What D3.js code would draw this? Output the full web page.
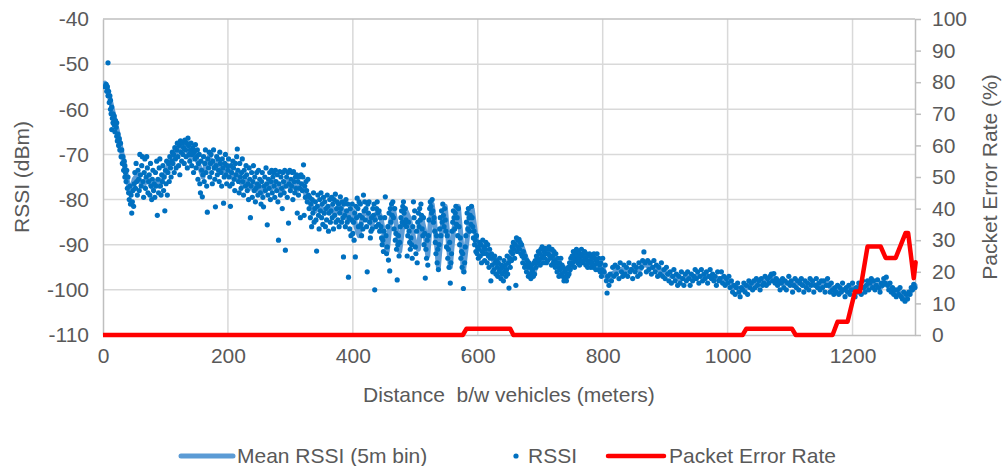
<!DOCTYPE html>
<html><head><meta charset="utf-8">
<script src="https://cdn.jsdelivr.net/npm/d3@7"></script>
<style>
body{margin:0;background:#fff}
text{font-family:"Liberation Sans",Arial,sans-serif;fill:#595959}
</style>
</head><body>
<svg id="chart" width="1002" height="466"></svg>
<script>
// ---------- DATA ----------
const xTicks = [0, 200, 400, 600, 800, 1000, 1200];
const leftTicks = [-110, -100, -90, -80, -70, -60, -50, -40];
const rightTicks = [0, 10, 20, 30, 40, 50, 60, 70, 80, 90, 100];
const seriesNames = ["Mean RSSI (5m bin)", "RSSI", "Packet Error Rate"];

// Mean RSSI (5m bin): [distance m, dBm]
const meanRSSI = [[3,-54.2],[5,-54.5],[10,-57],[15,-60],[20,-63],[25,-66],[30,-69.5],[35,-73],[40,-76.5],[45,-78],[50,-75.5],[55,-74.5],[60,-76],[65,-77],[70,-75],[75,-76.5],[80,-77.5],[85,-76],[90,-77],[95,-75.5],[100,-74],[105,-72.5],[110,-71],[115,-70],[120,-69],[125,-68],[130,-67.5],[135,-69],[140,-70.5],[145,-69],[150,-71],[155,-73],[160,-75],[165,-72],[170,-70.5],[175,-72],[180,-73],[185,-71.5],[190,-73],[195,-74.5],[200,-73],[205,-74],[210,-75.5],[215,-74],[220,-76],[225,-77],[230,-76],[235,-77.5],[240,-76.5],[245,-78],[250,-77],[255,-78.5],[260,-77],[265,-76.5],[270,-77.5],[275,-76],[280,-77.5],[285,-78.5],[290,-77],[295,-76],[300,-77.5],[305,-76.5],[310,-78],[315,-76.5],[320,-77],[325,-79],
[330,-80],[335,-82],[340,-82.5],[345,-81.5],[350,-82],[355,-83],[360,-82],[365,-81.5],[370,-83],[375,-82.5],[380,-81],[385,-83],[390,-84],[395,-83],[400,-82.5],[405,-86],[410,-88],[415,-84],[420,-82.5],[425,-83.5],[430,-85.5],[435,-84],[440,-82.5],[445,-84],[450,-88],[455,-91.5],[460,-85],[465,-82],[470,-86],[475,-91.5],[480,-86],[485,-82.5],[490,-84],[495,-87],[500,-90],[505,-91],[510,-84],[515,-87],[520,-92.5],[524,-85],[527,-81],[531,-85],[537,-95],[542,-87],[548,-81.5],[552,-88],[556,-95],[561,-87],[569,-81.5],[573,-88],[577,-96],[582,-90],[587,-84],[591,-82],[596,-87],
[600,-91],[605,-90.5],[610,-90.5],[615,-91.5],[620,-92],[625,-93.5],[630,-94.5],[635,-95],[640,-95.5],[645,-96],[650,-94],[655,-92],[660,-90.5],[665,-89.5],[670,-90],[675,-92],[680,-94],[685,-95.5],[690,-96],[695,-94.5],[700,-93],[705,-92],[710,-91.5],[715,-91.5],[720,-92.5],[725,-93.5],[730,-95],[735,-96],[740,-97],[745,-96.5],[750,-94.5],[755,-93],[760,-92.5],[765,-92.5],[770,-93],[775,-93],[780,-93.5],[785,-93.5],[790,-94],[795,-94.5],[800,-95],[805,-97],[810,-97.5],[815,-96.5],[820,-96],[825,-95.5],[830,-95.5],[835,-96],[840,-95.5],[845,-95.5],[850,-95.5],[855,-95.5],[860,-95.5],[865,-94.5],[870,-94.5],[875,-95],[880,-95],[885,-95.5],[890,-95.5],[895,-96],[900,-96],[905,-96.5],[910,-97],[915,-97],[920,-97.5],[925,-97.5],[930,-97.5],[935,-97],[940,-97.5],[945,-97],[950,-97],[955,-97],[960,-97],[965,-97],[970,-97],[975,-97],[980,-97.5],[985,-97.5],[990,-97.5],[995,-97.5],[1000,-98],[1005,-98.5],[1010,-99.5],[1015,-99.5],[1020,-100],[1025,-99.5],[1030,-99.5],[1035,-99],[1040,-98.5],[1045,-98.5],[1050,-98.5],[1055,-98.5],[1060,-98],[1065,-97.5],[1070,-97.5],[1075,-97.5],[1080,-98.5],[1085,-98.5],[1090,-98.5],[1095,-98.5],[1100,-98.5],[1105,-99],[1110,-98.5],[1115,-98.5],[1120,-99],[1125,-99],[1130,-99],[1135,-98.5],[1140,-99],[1145,-99],[1150,-99],[1155,-99],[1160,-98.5],[1165,-99.5],[1170,-100],[1175,-100],[1180,-100],[1185,-100],[1190,-100],[1195,-100],[1200,-99.5],[1205,-100],[1210,-99.5],[1215,-99.5],[1220,-99.5],[1225,-99],[1230,-98.5],[1235,-99],[1240,-99],[1245,-99.5],[1250,-98.5],[1255,-98.5],[1260,-99.5],[1265,-100],[1270,-100.5],[1275,-100.5],[1280,-101.5],[1285,-101.5],[1290,-101],[1295,-100],[1300,-99]];

// RSSI samples: [distance m, dBm]
const rssiPoints = [[3,-55],[5,-54.5],[6,-56],[7,-55],[8,-49.7],[8,-57],[9,-56],[10,-58.5],[11,-57],[12,-60],[12,-58],[13,-61],[14,-64.5],[14,-59.5],[15,-62],[16,-61],[16,-63],[17,-62],[18,-63.5],[18,-61.5],[19,-65],[20,-62.5],[21,-64],[22,-66],[22,-63],[23,-67],[24,-65.5],[25,-68],[26,-66.5],[27,-69],[28,-67.5],[29,-70.5],[30,-69],[31,-72],[32,-70.5],[33,-73.5],[34,-71.5],[35,-75],[35,-72.5],[36,-74],[37,-76],[38,-73.5],[39,-77.5],[40,-75],[41,-78.5],[42,-80],[43,-77],[44,-81],[45,-79],[46,-83],[47,-80.5],[48,-78],[49,-81.5],[50,-76.5],
[51,-74],[52,-77.5],[53,-72],[54,-76],[55,-79],[56,-73.5],[57,-75.5],[58,-78],[59,-70],[60,-74.5],[61,-77],[62,-72.5],[63,-70.5],[64,-76],[65,-79.5],[66,-74],[67,-71],[68,-77.5],[69,-75],[70,-70.5],[71,-73],[72,-78.5],[73,-76],[74,-74.5],[75,-79],[76,-72],[77,-77],[78,-80],[79,-75.5],[80,-73.5],[81,-78],[82,-76.5],[83,-79.5],[84,-74],[85,-77],[86,-71.5],[87,-83.5],[88,-75.5],[89,-78.5],[90,-73],[91,-71],[92,-77],[93,-79],[94,-74.5],[95,-76],[96,-72.5],[97,-78],[98,-75],[99,-82.5],[100,-73.5],[101,-76.5],[102,-71.5],[103,-79],[104,-74],[105,-72],[106,-76],[107,-70.5],[108,-73],[109,-75],[110,-71.5],
[111,-69.5],[112,-72],[113,-70],[114,-74],[115,-68.5],[116,-71],[117,-73],[118,-69],[119,-67.5],[120,-70.5],[121,-72.5],[122,-68],[123,-74.5],[124,-67],[125,-69.5],[126,-71.5],[127,-67.5],[128,-70],[129,-68.5],[130,-72],[131,-66.8],[132,-69],[133,-70.5],[134,-67.5],[135,-73],[136,-66.4],[137,-68],[138,-70],[139,-71.5],[140,-69],[141,-67.5],[142,-72.5],[143,-70],[144,-68.5],[145,-74],[146,-69.5],[147,-71],[148,-67.8],[149,-73],[150,-70.5],[151,-69],[152,-75.5],[153,-72],[154,-70],[155,-76.5],[156,-78.5],[157,-71.5],[158,-73.5],[159,-79.4],[160,-74.5],[161,-70.5],[162,-76],[163,-72],[164,-69],[165,-74],[166,-77],[167,-82.8],[168,-71],[169,-73],[170,-69.5],[171,-75],[172,-72],[173,-70],[174,-74],[175,-76.5],[176,-71.5],[177,-69],[178,-73],[179,-75.5],[180,-81.6],[181,-72.5],[182,-70.5],[183,-74.5],[184,-71],[185,-73.5],[186,-76],[187,-69.5],[188,-72],[189,-74],[190,-77],[191,-71],[192,-73],[193,-80.8],[194,-75],[195,-72],[196,-70],[197,-74.5],[198,-76.5],[199,-72.5],[200,-73.5],
[201,-71],[202,-75],[203,-77],[204,-81.5],[205,-72.5],[206,-74],[207,-76.5],[208,-71.5],[209,-73],[210,-75.5],[211,-78],[212,-72],[213,-74.5],[214,-70.5],[215,-68.8],[216,-73.5],[217,-76],[218,-78.5],[219,-72],[220,-75],[221,-77.5],[222,-74],[223,-71],[224,-76],[225,-79],[226,-73.5],[227,-75],[228,-77],[229,-72.5],[230,-74.5],[231,-78],[232,-76.5],[233,-80],[234,-73],[235,-75.5],[236,-84],[237,-77],[238,-74],[239,-79.5],[240,-76],[241,-72.5],[242,-78],[243,-75],[244,-80.5],[245,-77.5],[246,-74],[247,-76.5],[248,-79],[249,-73.5],[250,-77],[251,-75.5],[252,-78.5],[253,-81],[254,-76],[255,-74],[256,-79.5],[257,-81.6],[258,-77],[259,-75],[260,-78],[261,-73],[262,-76.5],[263,-85.6],[264,-79],[265,-75.5],[266,-77.5],[267,-74],[268,-80],[269,-76],[270,-73.5],[271,-78.5],[272,-75],[273,-74],[274,-77],[275,-79.5],[276,-73.5],[277,-76],[278,-78],[279,-74.5],[280,-80.5],[281,-89],[282,-76.5],[283,-73.8],[284,-79],[285,-75],[286,-77.5],[287,-82],[288,-74],[289,-76],[290,-78.5],[291,-73.5],[292,-91.2],[293,-77],[294,-75],[295,-79.5],[296,-74],[297,-85.2],[298,-76.5],[299,-73.5],[300,-78],[301,-75.5],[302,-77],[303,-74],[304,-80],[305,-73.8],[306,-76],[307,-78.5],[308,-75],[309,-77.5],[310,-74.5],[311,-83],[312,-76],[313,-79],[314,-75],[315,-77.5],[316,-84],[317,-74.5],[318,-76.5],[319,-78],[320,-75],[321,-72.3],[322,-83.5],[323,-77],[324,-79.5],[325,-76],[326,-78],[327,-80.5],[328,-75.5],[329,-79],
[330,-82],[331,-79.5],[332,-84],[333,-81],[334,-86],[335,-80],[336,-83],[337,-78.5],[338,-85],[339,-82],[340,-80.5],[341,-84.5],[342,-91.4],[343,-81.5],[344,-79],[345,-83.5],[346,-86.5],[347,-80],[348,-82.5],[349,-78.5],[350,-84],[351,-81],[352,-85.5],[353,-79.5],[354,-83],[355,-80.5],[356,-86],[357,-82],[358,-84.5],[359,-79],[360,-81.5],[361,-87],[362,-83],[363,-80],[364,-85],[365,-82.5],[366,-79.5],[367,-84],[368,-81],[369,-86.5],[370,-80],[371,-83.5],[372,-78.8],[373,-85],[374,-82],[375,-80.5],[376,-84.5],[377,-81],[378,-86],[379,-83],[380,-79.4],[381,-82],[382,-85],[383,-80.5],[384,-84],[385,-92.7],[386,-81],[387,-83.5],[388,-86],[389,-80],[390,-82.5],[391,-85],[392,-81],[393,-97.2],[394,-84],[395,-86.5],[396,-82],[397,-88],[398,-84.5],[399,-81],
[400,-87.5],[401,-85],[402,-89],[403,-83],[404,-92.7],[405,-81.5],[406,-84],[407,-79.7],[408,-82],[409,-86],[410,-80.5],[411,-83.5],[412,-81],[413,-85.5],[414,-88],[415,-84],[416,-86.5],[417,-79],[418,-82.5],[419,-80.5],[420,-84.5],[421,-82],[422,-86],[423,-96],[424,-81],[425,-83],[426,-80.5],[427,-85],[428,-88.5],[429,-87],[430,-84],[431,-86.5],[432,-82],[433,-83.5],[434,-81],[435,-100],[436,-84.5],[437,-86],[438,-82],[439,-80.5],[440,-83],[441,-85.5],[442,-82.5],[443,-87],[444,-84],[445,-86],[446,-88.5],[447,-90],[448,-89],[449,-91.5],[450,-87],[451,-84],[452,-79.4],[453,-88],[454,-92],[455,-90.5],[456,-86],[457,-93.4],[458,-83],[459,-95.8],[460,-82],[461,-85],[462,-81],[463,-83.5],[464,-80.5],[465,-84],[466,-86.5],[467,-82],[468,-89],[469,-87.5],[470,-91],[471,-97.8],[472,-90],[473,-88],[474,-92.5],[475,-89.5],[476,-86],[477,-84],[478,-82.5],[479,-85],[480,-81.5],[481,-80.5],[482,-83],[483,-85.5],[484,-82],[485,-84.5],[486,-86],[487,-92.5],[488,-88],[489,-85],[490,-87],[491,-89.5],[492,-91],[493,-88.5],[494,-90],[495,-93],[496,-86],[497,-80.5],[498,-84],[499,-82.5],[500,-90.5],[501,-92],[502,-87],[503,-94],[504,-85],[505,-83],[506,-86],[507,-82],[508,-84.5],[509,-81],[510,-83.5],[511,-86.5],[512,-88],[513,-84],[514,-90],[515,-87.5],[516,-97.4],[517,-91],[518,-93],[519,-89],[520,-94.5],
[521,-88],[522,-84.5],[523,-82],[524,-80.5],[525,-81.5],[526,-83],[527,-80],[528,-82.5],[529,-85],[530,-84],[531,-87],[532,-89.5],[533,-92],[534,-88],[535,-94],[536,-91],[537,-95.5],[538,-90],[539,-86.5],[540,-84],[541,-88],[542,-82.5],[543,-85],[544,-81],[545,-83.5],[546,-86],[547,-82],[548,-84.5],[549,-87],[550,-90.5],[551,-88],[552,-93],[553,-91],[554,-95],[555,-89.5],[556,-98.5],[557,-94],[558,-92],[559,-87],[560,-85],[561,-82.5],[562,-84],[563,-86.5],[564,-83],[565,-81.5],[566,-85.5],[567,-84],[568,-88],[569,-82],[570,-86],[571,-90],[572,-88.5],[573,-93],[574,-91.5],[575,-95],[576,-92],[577,-99.7],[578,-96],[579,-94],[580,-90.5],[581,-88],[582,-85],[583,-83],[584,-86.5],[585,-82],[586,-84],[587,-87],[588,-83.5],[589,-85.5],[590,-81.5],[591,-84],[592,-86],[593,-88.5],[594,-87],[595,-90],[596,-89],[597,-91.5],[598,-88],[599,-92],
[600,-90.5],[601,-93],[602,-91],[603,-89.5],[604,-92.5],[605,-90],[606,-94],[607,-91.5],[608,-89],[609,-92],[610,-90.5],[611,-93.5],[612,-91],[613,-89.5],[614,-92],[615,-94],[616,-90],[617,-92.5],[618,-95],[619,-91],[620,-93],[621,-98],[622,-92],[623,-94.5],[624,-96],[625,-93],[626,-95.5],[627,-92.5],[628,-94],[629,-96.5],[630,-93.5],[631,-95],[632,-97],[633,-94],[634,-96],[635,-93],[636,-95.5],[637,-97.5],[638,-94.5],[639,-96.5],[640,-95],[641,-98],[642,-93.5],[643,-96],[644,-94.5],[645,-97],[646,-95.5],[647,-92.5],[648,-96.5],[649,-94],[650,-99.6],[651,-93],[652,-95],[653,-91.5],[654,-93.5],[655,-90.5],[656,-92],[657,-89.5],[658,-91],[659,-93],[660,-90],[661,-99],[662,-88.5],[663,-91.5],[664,-89],[665,-90.5],[666,-88.8],[667,-91],[668,-89.5],[669,-92],[670,-90],[671,-92.5],[672,-94],[673,-91.5],[674,-93],[675,-95],[676,-92.5],[677,-94.5],[678,-96],[679,-93.5],[680,-95],[681,-97],[682,-94],[683,-96.5],[684,-95],[685,-97.5],[686,-94.5],[687,-96],[688,-95.5],[689,-97],[690,-94],[691,-96.5],[692,-93.5],[693,-95],[694,-92.5],[695,-94],[696,-93],[697,-91.5],[698,-93.5],[699,-92],[700,-94.5],[701,-91],[702,-93],[703,-90.5],[704,-92.5],[705,-94],[706,-91.5],[707,-93],[708,-90.8],[709,-92],[710,-94],[711,-91],[712,-93.5],[713,-92],[714,-90.5],[715,-92.5],[716,-91],[717,-93],[718,-94.5],[719,-91],[720,-92.5],[721,-94],[722,-91.5],[723,-93.5],[724,-95],[725,-92],[726,-94],[727,-96],[728,-93],[729,-95],[730,-97],[731,-94],[732,-95.5],[733,-93],[734,-96.5],[735,-94.5],[736,-97],[737,-95],[738,-98],[739,-96],[740,-97.5],[741,-95.5],[742,-98],[743,-96.5],[744,-97],[745,-95],[746,-96.5],[747,-94],[748,-95.5],[749,-93],[750,-94.5],[751,-92.5],[752,-94],[753,-91.5],[754,-93],[755,-95],[756,-92],[757,-93.5],[758,-91],[759,-92.5],[760,-94],[761,-91.5],[762,-93],[763,-94.5],[764,-92],[765,-93.5],[766,-91],[767,-92.5],[768,-94],[769,-92],[770,-93.5],[771,-91.5],[772,-93],[773,-94.5],[774,-92],[775,-93.5],[776,-95],[777,-92.5],[778,-94],[779,-92],[780,-93.5],[781,-95],[782,-92.5],[783,-94],[784,-93],[785,-95],[786,-92],[787,-94.5],[788,-93],[789,-95.5],[790,-93.5],[791,-92],[792,-94],[793,-95.5],[794,-93],[795,-94.5],[796,-96],[797,-94],[798,-97],[799,-95.5],
[800,-93],[802,-96],[804,-94.5],[806,-98],[807,-100.7],[808,-97],[810,-99],[812,-96.5],[814,-98],[816,-95],[818,-97],[820,-94.5],[822,-96.5],[824,-95],[826,-97.5],[828,-94],[830,-96],[832,-97],[834,-94.5],[836,-96.5],[838,-95],[840,-97],[842,-94],[844,-96],[846,-95.5],[848,-97.5],[850,-94.5],[852,-96],[854,-95],[856,-97],[858,-94],[860,-96.5],[862,-95],[864,-93.5],[866,-91.6],[868,-94],[870,-96],[872,-93.5],[874,-95.5],[876,-94],[878,-96.5],[880,-95],[882,-93.5],[884,-96],[886,-94.5],[888,-97],[890,-95],[892,-96.5],[894,-94],[896,-97],[898,-95.5],[900,-97.5],[902,-95],[904,-96.5],[906,-98],[908,-96],[910,-98.5],[912,-97],[914,-95.5],[916,-98],[918,-96.5],[920,-99],[922,-97],[924,-98.5],[926,-96],[928,-97.5],[930,-99],[932,-96.5],[934,-98],[936,-96],[938,-97.5],[940,-99],[942,-96.5],[944,-98],[946,-97],[948,-95.5],[950,-97.5],[952,-96],[954,-98.5],[956,-97],[958,-95.5],[960,-98],[962,-96.5],[964,-97.5],[966,-96],[968,-98.5],[970,-97],[972,-95.5],[974,-97.5],[976,-96.5],[978,-98],[980,-97],[982,-99],[984,-96],[986,-98],[988,-97.5],[990,-96],[992,-98.5],[994,-97],[996,-99],[998,-97.5],
[1000,-98.5],[1002,-97],[1004,-99.5],[1006,-98],[1008,-100.5],[1010,-99],[1012,-101],[1014,-99.5],[1016,-98.5],[1018,-100.5],[1020,-101.5],[1022,-99.5],[1024,-100],[1026,-98.5],[1028,-100.5],[1030,-99],[1032,-101],[1034,-98],[1036,-99.5],[1038,-98.5],[1040,-100],[1042,-98],[1044,-99.5],[1046,-97.5],[1048,-99],[1050,-98],[1052,-100],[1054,-97.5],[1056,-99],[1058,-98.5],[1060,-97],[1062,-99],[1064,-97.5],[1066,-98.5],[1068,-97],[1070,-96.5],[1072,-98],[1074,-96.4],[1076,-98.5],[1078,-97.5],[1080,-99],[1082,-98],[1084,-100],[1086,-98.5],[1088,-97.5],[1090,-99.5],[1092,-98],[1094,-100],[1096,-98.5],[1098,-97],[1100,-99],[1102,-98],[1104,-100.5],[1106,-99],[1108,-97.5],[1110,-99.5],[1112,-98],[1114,-100],[1116,-98.5],[1118,-97.5],[1120,-99],[1122,-100.5],[1124,-98],[1126,-99.5],[1128,-98.5],[1130,-100],[1132,-97.5],[1134,-99],[1136,-98],[1138,-100.5],[1140,-99],[1142,-97.5],[1144,-99.5],[1146,-98.5],[1148,-100],[1150,-98],[1152,-99.5],[1154,-98],[1156,-100.5],[1158,-99],[1160,-97.5],[1162,-99],[1164,-100.5],[1166,-98.5],[1168,-100],[1170,-101],[1172,-99.5],[1174,-100.5],[1176,-99],[1178,-101],[1180,-99.5],[1182,-100.5],[1184,-98.5],[1186,-100],[1188,-101.5],[1190,-99.5],[1192,-100.5],[1194,-99],[1196,-101],[1198,-100],
[1200,-98.5],[1202,-100],[1204,-101.5],[1206,-99.5],[1208,-100.5],[1210,-98.5],[1212,-99.5],[1214,-101],[1216,-98],[1218,-99.5],[1220,-100.5],[1222,-99],[1224,-98],[1226,-100],[1228,-98.5],[1230,-97.5],[1232,-99.5],[1234,-98],[1236,-100],[1238,-99],[1240,-97.8],[1242,-99.5],[1244,-100.5],[1246,-98.5],[1248,-99],[1250,-97.5],[1252,-98.5],[1254,-97.2],[1256,-99],[1258,-100],[1260,-98.5],[1262,-100.5],[1264,-99.5],[1266,-101],[1268,-100],[1270,-101.5],[1272,-100],[1274,-101],[1276,-99.5],[1278,-101.5],[1280,-102],[1282,-100.5],[1284,-102.5],[1286,-101],[1288,-102],[1290,-100.5],[1292,-101],[1294,-99.5],[1296,-100],[1298,-98.8],[1300,-99.5]];

// Packet Error Rate (%): [distance m, %]
const perPoints = [[0,0],[576,0],[582,2],[652,2],[657,0],[1024,0],[1030,2],[1103,2],[1109,0],[1168,0],[1176,4.2],[1192,4.2],[1204,13.8],[1212,13.8],[1224,28],[1245,28],[1253,24.4],[1269,24.4],[1285,32.3],[1289,32.3],[1298,18],[1301,23]];

// ---------- CHART ----------
const svg = d3.select("#chart");
const L = 103, R = 915, T = 19, B = 335;
const x = d3.scaleLinear().domain([0, 1300]).range([L, R]);
const yL = d3.scaleLinear().domain([-110, -40]).range([B, T]);
const yR = d3.scaleLinear().domain([0, 100]).range([B, T]);
const FS = 21;
const FONT = "'Liberation Sans',Arial,sans-serif";
const plain = d => String(d);   // hyphen-minus like the reference

// gridlines
svg.append("g").selectAll("line").data(leftTicks.filter(v => v > -110 && v < -40)).join("line")
  .attr("x1", L).attr("x2", R).attr("y1", d => yL(d)).attr("y2", d => yL(d))
  .attr("stroke", "#D9D9D9").attr("stroke-width", 1.5);
svg.append("g").selectAll("line").data(xTicks.filter(v => v > 0)).join("line")
  .attr("x1", d => x(d)).attr("x2", d => x(d)).attr("y1", T).attr("y2", B)
  .attr("stroke", "#D9D9D9").attr("stroke-width", 1.5);

// top frame line
svg.append("line").attr("x1", L).attr("x2", R).attr("y1", T).attr("y2", T).attr("stroke", "#BFBFBF").attr("stroke-width", 1.5);

// left axis
const gL = svg.append("g").attr("transform", `translate(${L},0)`)
  .call(d3.axisLeft(yL).tickValues(leftTicks).tickFormat(plain).tickSize(0).tickPadding(14));
gL.select(".domain").attr("stroke", "#BFBFBF").attr("stroke-width", 1.5);
gL.selectAll("text").attr("font-size", FS).attr("fill", "#595959").style("font-family", FONT);

// bottom axis
const gB = svg.append("g").attr("transform", `translate(0,${B})`)
  .call(d3.axisBottom(x).tickValues(xTicks).tickFormat(plain).tickSize(0).tickPadding(13));
gB.select(".domain").attr("stroke", "#BFBFBF").attr("stroke-width", 1.5);
gB.selectAll("text").attr("font-size", FS).attr("fill", "#595959").style("font-family", FONT);

// right axis
const gR = svg.append("g").attr("transform", `translate(${R},0)`)
  .call(d3.axisRight(yR).tickValues(rightTicks).tickFormat(plain).tickSize(6).tickSizeOuter(0).tickPadding(11));
gR.select(".domain").attr("stroke", "#BFBFBF").attr("stroke-width", 1.5);
gR.selectAll(".tick line").attr("stroke", "#BFBFBF").attr("stroke-width", 1.5);
gR.selectAll("text").attr("font-size", FS).attr("fill", "#595959").style("font-family", FONT);

// axis titles
svg.append("text").attr("x", (L + R) / 2).attr("y", 402).attr("text-anchor", "middle")
  .attr("font-size", FS).style("white-space", "pre").text("Distance  b/w vehicles (meters)");
svg.append("text").attr("transform", `translate(29,${(T + B) / 2}) rotate(-90)`).attr("text-anchor", "middle")
  .attr("font-size", FS).text("RSSI (dBm)");
svg.append("text").attr("transform", `translate(997,${(T + B) / 2}) rotate(-90)`).attr("text-anchor", "middle")
  .attr("font-size", FS).text("Packet Error Rate (%)");

// series
svg.append("clipPath").attr("id", "plotclip").append("rect")
  .attr("x", L).attr("y", T - 5).attr("width", R - L + 4).attr("height", B - T + 10);
const plot = svg.append("g").attr("clip-path", "url(#plotclip)");

const lineL = d3.line().x(d => x(d[0])).y(d => yL(d[1]));
const lineR = d3.line().x(d => x(d[0])).y(d => yR(d[1]));

plot.append("path").datum(meanRSSI).attr("d", lineL).attr("fill", "none")
  .attr("stroke", "#5B9BD5").attr("stroke-width", 5).attr("stroke-linejoin", "round").attr("stroke-linecap", "round");

plot.append("g").selectAll("circle").data(rssiPoints).join("circle")
  .attr("cx", d => x(d[0])).attr("cy", d => yL(d[1])).attr("r", 2.6).attr("fill", "#0070C0");

plot.append("path").datum(perPoints).attr("d", lineR).attr("fill", "none")
  .attr("stroke", "#FF0000").attr("stroke-width", 4.5).attr("stroke-linejoin", "round").attr("stroke-linecap", "round");

// legend
const ly = 456;
const lg = svg.append("g");
lg.append("line").attr("x1", 181).attr("x2", 233).attr("y1", ly).attr("y2", ly)
  .attr("stroke", "#5B9BD5").attr("stroke-width", 5).attr("stroke-linecap", "round");
lg.append("text").attr("x", 237).attr("y", ly).attr("dy", "0.35em").attr("font-size", FS).text(seriesNames[0]);
lg.append("circle").attr("cx", 516).attr("cy", ly).attr("r", 2.6).attr("fill", "#0070C0");
lg.append("text").attr("x", 528).attr("y", ly).attr("dy", "0.35em").attr("font-size", FS).text(seriesNames[1]);
lg.append("line").attr("x1", 608).attr("x2", 664).attr("y1", ly).attr("y2", ly)
  .attr("stroke", "#FF0000").attr("stroke-width", 4.5).attr("stroke-linecap", "round");
lg.append("text").attr("x", 669).attr("y", ly).attr("dy", "0.35em").attr("font-size", FS).text(seriesNames[2]);
</script>
</body></html>
